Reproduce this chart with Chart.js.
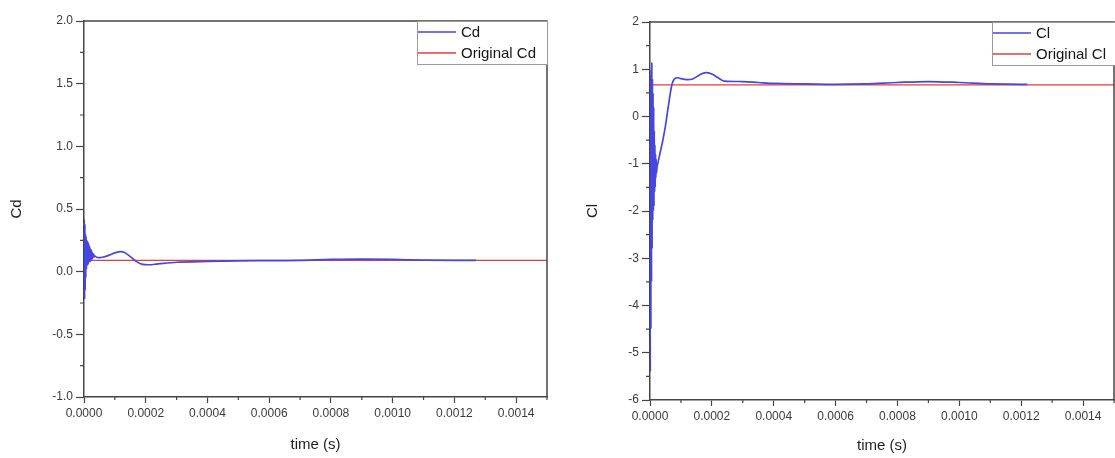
<!DOCTYPE html>
<html>
<head>
<meta charset="utf-8">
<script src="https://cdn.jsdelivr.net/npm/chart.js@4.4.1/dist/chart.umd.min.js"></script>
<style>
  html, body { margin: 0; padding: 0; background: #fff; }
  #wrap { position: relative; width: 1115px; height: 458px; overflow: hidden; }
  canvas { position: absolute; top: 0; }
  #cdChart { left: 0; }
  #clChart { left: 557px; }
</style>
</head>
<body>
<div id="wrap">
  <canvas id="cdChart" width="557" height="458"></canvas>
  <canvas id="clChart" width="558" height="458"></canvas>
</div>
<script>
// Drag coefficient history (time in seconds)
const timeCd = [0, 0.000001, 0.000002, 0.000003, 0.000004, 0.000005, 0.000006, 0.000007,
  0.000008, 0.0000095, 0.000011, 0.0000125, 0.000014, 0.0000155, 0.000017, 0.0000185, 0.00002,
  0.0000215, 0.000023, 0.0000245, 0.000026, 0.0000275, 0.000029, 0.000031, 0.000033, 0.000036,
  0.00004, 0.00005, 0.00006, 0.00008, 0.0001, 0.00012, 0.00013, 0.00015, 0.00017,
  0.00019, 0.00021, 0.00024, 0.0003, 0.0004, 0.0005, 0.0006, 0.0007, 0.0008, 0.0009, 0.001,
  0.0011, 0.0012, 0.00127];
const cdValues = [0.25, 0.42, -0.22, 0.38, -0.15, 0.30, -0.05, 0.28,
  0.02, 0.25, 0.05, 0.24, 0.06, 0.22, 0.08, 0.20, 0.08,
  0.18, 0.09, 0.17, 0.10, 0.15, 0.11, 0.14, 0.12, 0.125,
  0.115, 0.112, 0.115, 0.13, 0.15, 0.16, 0.155, 0.12, 0.08,
  0.058, 0.055, 0.062, 0.075, 0.082, 0.086, 0.088, 0.09, 0.098, 0.10, 0.098,
  0.092, 0.09, 0.09];
const originalCd = 0.09;

// Lift coefficient history (time in seconds)
const timeCl = [0, 0.000001, 0.000002, 0.000003, 0.000004, 0.000005, 0.000006, 0.000007,
  0.000008, 0.000009, 0.00001, 0.000011, 0.000012, 0.000013, 0.000014, 0.000015, 0.000016,
  0.000017, 0.000018, 0.000019, 0.00002, 0.000021, 0.000023, 0.000025, 0.00003,
  0.00004, 0.00005, 0.00006, 0.00007, 0.00008, 0.00009, 0.0001, 0.00012, 0.00014, 0.00016,
  0.00018, 0.0002, 0.00022, 0.00024, 0.0003, 0.00035, 0.0004, 0.0005, 0.0006, 0.0007, 0.0008,
  0.0009, 0.001, 0.0011, 0.0012, 0.00122];
const clValues = [0.6, -5.4, 0.9, -4.5, 1.0, -3.5, 1.15, -2.8,
  0.8, -2.2, 0.5, -2.0, 0.2, -1.9, -0.3, -1.6, -0.6,
  -1.5, -0.8, -1.3, -0.9, -1.2, -1.05, -1.0, -0.85,
  -0.55, -0.2, 0.25, 0.65, 0.8, 0.82, 0.8, 0.78, 0.8, 0.88,
  0.93, 0.9, 0.82, 0.75, 0.74, 0.72, 0.7, 0.69, 0.68, 0.69, 0.72,
  0.74, 0.72, 0.69, 0.68, 0.68];
const originalCl = 0.67;

// Axis ticks
const timeTicks = [0, 0.0002, 0.0004, 0.0006, 0.0008, 0.0010, 0.0012, 0.0014];
const cdTicks = [-1.0, -0.5, 0.0, 0.5, 1.0, 1.5, 2.0];
const clTicks = [-6, -5, -4, -3, -2, -1, 0, 1, 2];

const FONT = '"Liberation Sans", Arial, sans-serif';
const AXIS = '#454545';
const BLUE = 'rgb(70,70,225)';
const RED = 'rgb(228,60,60)';

// Frame on the top and right edges of the plot area
const frame = {
  id: 'frame',
  afterDraw(chart) {
    const { ctx, chartArea: a } = chart;
    ctx.save();
    ctx.strokeStyle = AXIS;
    ctx.lineWidth = 1.5;
    ctx.beginPath();
    ctx.moveTo(a.left, a.top);
    ctx.lineTo(a.right, a.top);
    ctx.lineTo(a.right, a.bottom);
    ctx.stroke();
    ctx.restore();
  }
};

// Short minor ticks half-way between the labelled ones
const minorTicks = {
  id: 'minorTicks',
  afterDraw(chart) {
    const { ctx } = chart;
    ctx.save();
    ctx.strokeStyle = AXIS;
    ctx.lineWidth = 1.2;
    Object.values(chart.scales).forEach(scale => {
      const vals = scale.ticks.map(t => t.value);
      if (vals.length < 2) return;
      const step = vals[1] - vals[0];
      const mids = [];
      for (let i = 0; i < vals.length; i++) {
        const m = vals[i] + step / 2;
        if (m <= scale.max + 1e-12) mids.push(m);
      }
      ctx.beginPath();
      mids.forEach(m => {
        const p = scale.getPixelForValue(m);
        if (scale.isHorizontal()) {
          ctx.moveTo(p, scale.top);
          ctx.lineTo(p, scale.top + 3);
        } else {
          ctx.moveTo(scale.right, p);
          ctx.lineTo(scale.right - 4, p);
        }
      });
      ctx.stroke();
    });
    ctx.restore();
  }
};

// Boxed legend in the top-right corner of the plot area
const boxLegend = {
  id: 'boxLegend',
  afterDraw(chart, args, opts) {
    const { ctx, chartArea: a } = chart;
    const x0 = a.right - opts.offset;
    const y0 = a.top;
    const w = opts.width, h = 43;
    ctx.save();
    ctx.fillStyle = '#fff';
    ctx.fillRect(x0, y0, w, h);
    ctx.strokeStyle = '#9a9a9a';
    ctx.lineWidth = 1;
    ctx.strokeRect(x0 + 0.5, y0 + 0.5, w, h);
    ctx.font = '15px ' + FONT;
    ctx.textBaseline = 'middle';
    ctx.fillStyle = '#151515';
    chart.data.datasets.forEach((ds, i) => {
      const y = y0 + 11 + i * 21;
      ctx.strokeStyle = ds.borderColor;
      ctx.lineWidth = 1.5;
      ctx.beginPath();
      ctx.moveTo(x0 + 1, y);
      ctx.lineTo(x0 + 39, y);
      ctx.stroke();
      ctx.fillText(ds.label, x0 + 44, y + 1);
    });
    ctx.restore();
  }
};

function buildChart(id, cfg) {
  return new Chart(document.getElementById(id), {
    type: 'line',
    data: {
      datasets: [
        {
          label: cfg.seriesLabel,
          data: cfg.times.map((t, i) => ({ x: t, y: cfg.values[i] })),
          borderColor: BLUE,
          borderWidth: 1.7,
          pointRadius: 0,
          cubicInterpolationMode: 'monotone'
        },
        {
          label: cfg.originalLabel,
          data: [{ x: 0, y: cfg.original }, { x: 0.0015, y: cfg.original }],
          borderColor: RED,
          borderWidth: 1.2,
          pointRadius: 0
        }
      ]
    },
    options: {
      responsive: false,
      animation: false,
      devicePixelRatio: 1,
      layout: { padding: cfg.padding },
      plugins: {
        legend: { display: false },
        tooltip: { enabled: false },
        boxLegend: cfg.legend
      },
      scales: {
        x: {
          type: 'linear',
          min: 0,
          max: 0.0015,
          afterBuildTicks: s => { s.ticks = timeTicks.map(v => ({ value: v })); },
          afterFit: s => { s.height = cfg.xHeight; },
          ticks: {
            callback: v => v.toFixed(4),
            color: '#3a3a3a',
            font: { family: FONT, size: 12 },
            padding: 3,
            maxRotation: 0,
            autoSkip: false
          },
          grid: { drawOnChartArea: false, tickLength: 6, tickColor: AXIS, tickWidth: 1.2 },
          border: { display: true, color: AXIS, width: 1.5 },
          title: {
            display: true,
            text: 'time (s)',
            color: '#1e1e1e',
            font: { family: FONT, size: 15 },
            padding: { top: 0, bottom: cfg.xTitlePad }
          }
        },
        y: {
          type: 'linear',
          min: cfg.yTicks[0],
          max: cfg.yTicks[cfg.yTicks.length - 1],
          afterBuildTicks: s => { s.ticks = cfg.yTicks.map(v => ({ value: v })); },
          afterFit: s => { s.width = cfg.yWidth; },
          ticks: {
            callback: cfg.yFormat,
            color: '#3a3a3a',
            font: { family: FONT, size: 12 },
            padding: 3,
            autoSkip: false
          },
          grid: { drawOnChartArea: false, tickLength: 8, tickColor: AXIS, tickWidth: 1.2 },
          border: { display: true, color: AXIS, width: 1.5 },
          title: {
            display: true,
            text: cfg.yTitle,
            color: '#1e1e1e',
            font: { family: FONT, size: 15 },
            padding: { top: cfg.yTitlePad, bottom: 0 }
          }
        }
      }
    },
    plugins: [frame, minorTicks, boxLegend]
  });
}

buildChart('cdChart', {
  seriesLabel: 'Cd',
  originalLabel: 'Original Cd',
  times: timeCd,
  values: cdValues,
  original: originalCd,
  yTicks: cdTicks,
  yFormat: v => v.toFixed(1),
  yTitle: 'Cd',
  yWidth: 84,
  xHeight: 61,
  xTitlePad: 4,
  yTitlePad: 8,
  padding: { top: 21, right: 10, bottom: 0, left: 0 },
  legend: { offset: 130, width: 130 }
});

buildChart('clChart', {
  seriesLabel: 'Cl',
  originalLabel: 'Original Cl',
  times: timeCl,
  values: clValues,
  original: originalCl,
  yTicks: clTicks,
  yFormat: v => String(v),
  yTitle: 'Cl',
  yWidth: 93,
  xHeight: 58,
  xTitlePad: 3,
  yTitlePad: 27,
  padding: { top: 22, right: 1, bottom: 0, left: 0 },
  legend: { offset: 122, width: 130 }
});
</script>
</body>
</html>
